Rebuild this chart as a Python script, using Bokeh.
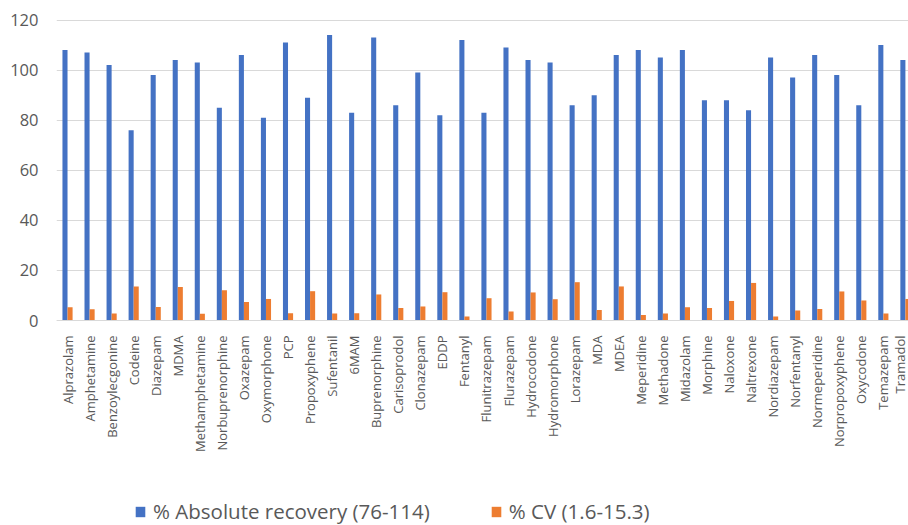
import math
from bokeh.plotting import figure
from bokeh.models import Range1d, FixedTicker, Legend, LegendItem
from bokeh.embed import file_html
from bokeh.resources import INLINE

categories = ["Alprazolam", "Amphetamine", "Benzoylecgonine", "Codeine", "Diazepam", "MDMA",
              "Methamphetamine", "Norbuprenorphine", "Oxazepam", "Oxymorphone", "PCP",
              "Propoxyphene", "Sufentanil", "6MAM", "Buprenorphine", "Carisoprodol",
              "Clonazepam", "EDDP", "Fentanyl", "Flunitrazepam", "Flurazepam", "Hydrocodone",
              "Hydromorphone", "Lorazepam", "MDA", "MDEA", "Meperidine", "Methadone",
              "Midazolam", "Morphine", "Naloxone", "Naltrexone", "Nordiazepam", "Norfentanyl",
              "Normeperidine", "Norpropoxyphene", "Oxycodone", "Temazepam", "Tramadol"]

recovery = [108, 107, 102, 76, 98, 104, 103, 85, 106, 81, 111, 89, 114, 83, 113, 86, 99, 82,
            112, 83, 109, 104, 103, 86, 90, 106, 108, 105, 108, 88, 88, 84, 105, 97, 106, 98,
            86, 110, 104]

cv = [5.3, 4.5, 2.8, 13.6, 5.4, 13.4, 2.7, 12.1, 7.4, 8.6, 2.9, 11.7, 2.8, 2.9, 10.4, 5.0,
      5.6, 11.3, 1.6, 8.9, 3.6, 11.2, 8.5, 15.3, 4.2, 13.6, 2.2, 2.8, 5.3, 5.0, 7.8, 15.0,
      1.6, 4.0, 4.6, 11.6, 8.0, 2.8, 8.6]

y_ticks = [0, 20, 40, 60, 80, 100, 120]

label_recovery = "% Absolute recovery (76-114)"
label_cv = "% CV (1.6-15.3)"

BLUE = "#4472C4"
ORANGE = "#ED7D31"
GREY_TXT = "#595959"
GRID = "#D9D9D9"

idx = list(range(len(categories)))
bw = 0.23
x_blue = [i - bw / 2 for i in idx]
x_orange = [i + bw / 2 for i in idx]

# frame spans the whole height below the top border; value 0 sits 205px above the bottom
px_per_unit = 303 / 121
y_start = -205 / px_per_unit

p = figure(frame_width=852, frame_height=508,
           x_range=Range1d(-0.5, 38.14), y_range=Range1d(y_start, 121),
           output_backend="svg", toolbar_location=None,
           min_border_left=56, min_border_right=0, min_border_top=17, min_border_bottom=0)
p.outline_line_color = None
p.background_fill_color = "white"
p.border_fill_color = "white"

r1 = p.vbar(x=x_blue, top=recovery, width=bw, bottom=0, fill_color=BLUE, line_color=None)
r2 = p.vbar(x=x_orange, top=cv, width=bw, bottom=0, fill_color=ORANGE, line_color=None)

p.xgrid.grid_line_color = None
p.ygrid.grid_line_color = GRID
p.ygrid.grid_line_width = 1
p.ygrid.ticker = FixedTicker(ticks=y_ticks)

p.yaxis.ticker = FixedTicker(ticks=y_ticks)
p.yaxis.axis_line_color = None
p.yaxis.major_tick_line_color = None
p.yaxis.minor_tick_line_color = None
p.yaxis.major_tick_out = 0
p.yaxis.minor_tick_out = 0
p.yaxis.major_label_text_font = "Open Sans"
p.yaxis.major_label_text_font_size = "16.5px"
p.yaxis.major_label_text_color = GREY_TXT
p.yaxis.major_label_standoff = 18

p.xaxis.fixed_location = 0
p.xaxis.ticker = FixedTicker(ticks=idx)
p.xaxis.major_label_overrides = {i: c for i, c in enumerate(categories)}
p.xaxis.major_label_orientation = math.pi / 2
p.xaxis.axis_line_color = GRID
p.xaxis.axis_line_width = 1
p.xaxis.major_tick_line_color = None
p.xaxis.minor_tick_line_color = None
p.xaxis.major_tick_out = 0
p.xaxis.minor_tick_out = 0
p.xaxis.major_label_text_font = "Open Sans"
p.xaxis.major_label_text_font_size = "13px"
p.xaxis.major_label_text_color = GREY_TXT
p.xaxis.major_label_standoff = 15

legend = Legend(items=[LegendItem(label=label_recovery, renderers=[r1]),
                       LegendItem(label=label_cv, renderers=[r2])],
                orientation="horizontal", location=(78, 0),
                label_text_font="Open Sans", label_text_font_size="20.5px",
                label_text_color=GREY_TXT, label_height=22, label_text_baseline="middle",
                glyph_width=12, glyph_height=13,
                label_standoff=7, spacing=60, padding=0, margin=0,
                border_line_color=None, background_fill_alpha=0)
p.add_layout(legend, "center")

open("out.html", "w").write(file_html(p, INLINE))
